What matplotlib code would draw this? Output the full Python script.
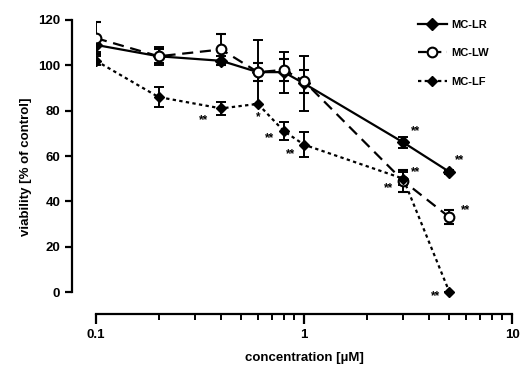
import numpy as np
import matplotlib.pyplot as plt
from matplotlib.lines import Line2D

plt.rcParams['font.family'] = ['Liberation Sans', 'DejaVu Sans']
plt.rcParams['font.weight'] = 'bold'

# data
conc = [0.1, 0.2, 0.4, 0.6, 0.8, 1.0, 3.0, 5.0]
lr = [109, 104, 102, 97, 97, 92, 66, 53]
lr_err = [3, 4, 2, 14, 9, 12, 2.5, 1]
lw = [112, 104, 107, 97, 98, 93, 49, 33]
lw_err = [7, 3, 7, 4, 5, 5, 5, 3]
lf = [102, 86, 81, 83, 71, 65, 50, 0]
lf_err = [2, 4.5, 3, 0, 4, 5.5, 3, 0]

# significance marks
star_x = [0.33, 0.6, 0.68, 0.86, 3.45, 5.6, 2.55, 3.45, 6.0, 4.3]
star_y = [76, 77, 68, 61, 71, 58, 46, 53, 36, -2]
star_t = ['**', '*', '**', '**', '**', '**', '**', '**', '**', '**']

fig = plt.figure(figsize=(5.22, 3.76), dpi=100)
W, H = 522, 376
ax = fig.add_axes([96 / W, (H - 314) / H, (512 - 96) / W, (314 - 20) / H])

kw = dict(color='black', lw=1.6, capsize=3.6, elinewidth=1.4, capthick=1.4)
ax.errorbar(conc, lr, yerr=lr_err, fmt='-D', mfc='black', ms=6, **kw)
ax.errorbar(conc, lw, yerr=lw_err, fmt='--o', mfc='white', mew=1.5, ms=7,
            dashes=(5, 3), **kw)
ax.errorbar(conc, lf, yerr=lf_err, fmt='D', ls=(0, (1.5, 1.5)), mfc='black', ms=5, **kw)

for x, y, t in zip(star_x, star_y, star_t):
    ax.text(x, y, t, ha='center', va='center', fontsize=8.5)

ax.set_xscale('log')
ax.set_xlim(0.1, 10)
ax.set_ylim(-9.7, 120)
ax.set_xticks([0.1, 1, 10])
ax.set_xticklabels(['0.1', '1', '10'])
ax.set_yticks([0, 20, 40, 60, 80, 100, 120])

for s in ['top', 'right']:
    ax.spines[s].set_visible(False)
ax.spines['left'].set_position(('outward', 17.3))
ax.spines['left'].set_bounds(0, 120)
ax.spines['left'].set_linewidth(1.6)
ax.spines['bottom'].set_linewidth(1.6)

ax.tick_params(axis='both', which='major', labelsize=9.5, width=1.6, length=5)
ax.tick_params(axis='x', which='major', length=7)
ax.tick_params(axis='x', which='minor', width=1.4, length=4)

ax.set_xlabel('concentration [µM]', fontsize=9.5, fontweight='bold', labelpad=8)
ax.set_ylabel('viability [% of control]', fontsize=9.5, fontweight='bold', labelpad=4)

handles = [
    Line2D([], [], color='black', lw=1.6, marker='D', ms=6, mfc='black'),
    Line2D([], [], color='black', lw=1.6, marker='o', ms=7, mfc='white', mew=1.5, dashes=(4, 2.5)),
    Line2D([], [], color='black', lw=1.6, marker='D', ms=5, mfc='black', ls=(0, (1.5, 1.5))),
]
ax.legend(handles, ['MC-LR', 'MC-LW', 'MC-LF'], loc='upper left',
          bbox_to_anchor=(418 / W, 1 - 20 / H), bbox_transform=fig.transFigure,
          frameon=False, fontsize=8, handlelength=2.6, handletextpad=0.4,
          labelspacing=1.65, borderpad=0, borderaxespad=0)

fig.savefig('out.png', dpi=100)
